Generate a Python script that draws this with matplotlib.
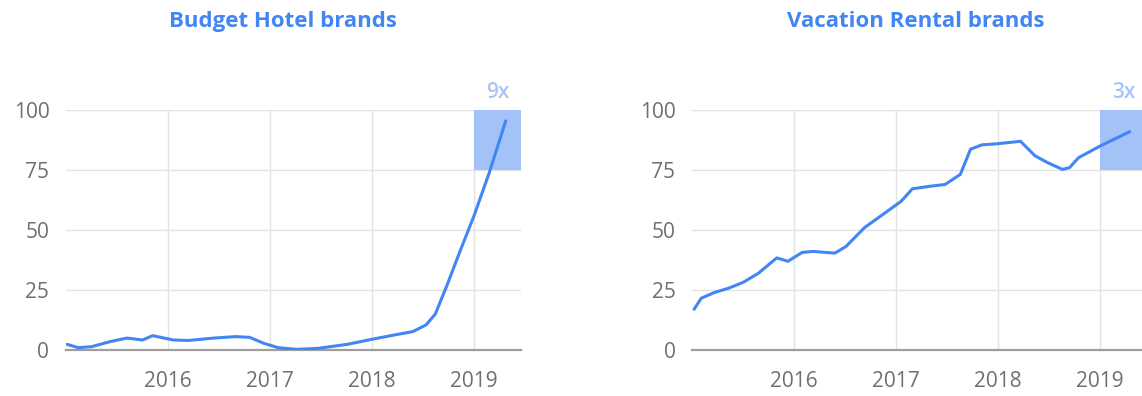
import matplotlib.pyplot as plt

# Budget Hotel brands (search interest, index)
hotel_x = [2015.01, 2015.12, 2015.25, 2015.43, 2015.54, 2015.6, 2015.75, 2015.85,
           2015.93, 2016.05, 2016.2, 2016.45, 2016.66, 2016.8, 2016.94, 2017.08,
           2017.26, 2017.47, 2017.76, 2018.0, 2018.22, 2018.4, 2018.53, 2018.62,
           2018.73, 2018.87, 2019.0, 2019.15, 2019.31]
hotel_y = [2.4, 1.0, 1.4, 3.5, 4.5, 5.0, 4.2, 6.0,
           5.3, 4.2, 4.0, 5.0, 5.6, 5.3, 2.8, 1.0,
           0.3, 0.7, 2.4, 4.5, 6.3, 7.7, 10.5, 15.0,
           26.5, 42.0, 56.0, 74.0, 95.5]

# Vacation Rental brands
rental_x = [2015.02, 2015.09, 2015.22, 2015.36, 2015.5, 2015.65, 2015.83, 2015.94,
            2016.08, 2016.19, 2016.4, 2016.51, 2016.69, 2016.87, 2017.05, 2017.16,
            2017.34, 2017.48, 2017.63, 2017.73, 2017.84, 2018.0, 2018.22, 2018.36,
            2018.49, 2018.63, 2018.7, 2018.79, 2019.0, 2019.29]
rental_y = [17, 21.6, 24, 25.8, 28.2, 32, 38.4, 37,
            40.7, 41.1, 40.4, 43.2, 51, 56.5, 62, 67.2,
            68.3, 69, 73.2, 83.7, 85.5, 86, 87, 81,
            78, 75.3, 76, 80.2, 85, 91]

titles = ['Budget Hotel brands', 'Vacation Rental brands']
growth = ['9x', '3x']
years = [2016, 2017, 2018, 2019]
yticks = [0, 25, 50, 75, 100]

blue = '#4285f4'
plt.rcParams['font.family'] = ['Open Sans', 'DejaVu Sans']

fig = plt.figure(figsize=(11.42, 3.96), dpi=100)
ax1 = fig.add_axes([0.0578, 0.116, 0.3984, 0.606])
ax2 = fig.add_axes([0.606, 0.116, 0.3984, 0.606])

for ax, xs, ys, title, g, tx in [(ax1, hotel_x, hotel_y, titles[0], growth[0], 0.248),
                                 (ax2, rental_x, rental_y, titles[1], growth[1], 0.802)]:
    ax.set_xlim(2015.0, 2019.46)
    ax.set_ylim(0, 100)
    ax.axvspan(2019, 2019.46, ymin=0.75, ymax=1.0, color='#a3c2f7', lw=0, zorder=1)
    ax.plot(xs, ys, color=blue, lw=2.2, zorder=3, solid_capstyle='round')
    ax.set_xticks(years)
    ax.set_yticks(yticks)
    ax.grid(True, color='#e3e3e3', lw=1, zorder=0)
    ax.set_axisbelow(True)
    for s in ['top', 'right', 'left']:
        ax.spines[s].set_visible(False)
    ax.spines['bottom'].set_color('#9e9e9e')
    ax.spines['bottom'].set_linewidth(1.6)
    ax.tick_params(length=0, labelsize=15, labelcolor='#6f6f6f')
    ax.tick_params(axis='x', pad=15)
    ax.tick_params(axis='y', pad=12)
    ax.text(2019.23, 103, g, ha='center', va='bottom', fontsize=15,
            color='#a8c4f5', fontweight='semibold', clip_on=False)
    fig.text(tx, 0.945, title, ha='center', va='center', fontsize=16,
             color=blue, fontweight='bold')

fig.savefig('out.png', dpi=100)
